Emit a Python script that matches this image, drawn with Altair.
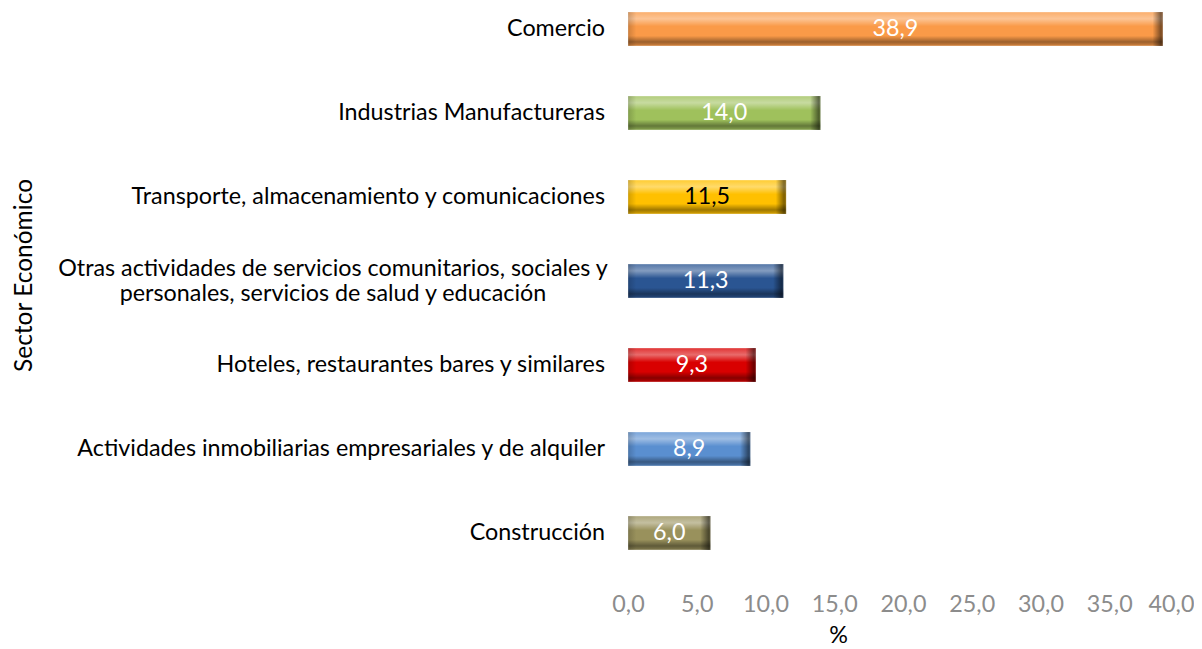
import altair as alt
import pandas as pd

sectors = [
    "Comercio",
    "Industrias Manufactureras",
    "Transporte, almacenamiento y comunicaciones",
    "Otras actividades de servicios comunitarios, sociales y\npersonales, servicios de salud y educación",
    "Hoteles, restaurantes bares y similares",
    "Actividades inmobiliarias empresariales y de alquiler",
    "Construcción",
]
values = [38.9, 14.0, 11.5, 11.3, 9.3, 8.9, 6.0]
bar_colors = ["#FA9A48", "#9FC15C", "#FFC000", "#2A5592", "#D90000", "#5A8FD0", "#99915C"]
text_colors = ["white", "white", "black", "white", "white", "white", "white"]
x_ticks = [0, 5, 10, 15, 20, 25, 30, 35, 40]

FONT = "Lato"
FS = 23.3

df = pd.DataFrame({
    "sector": sectors,
    "v": values,
    "col": bar_colors,
    "tcol": text_colors,
    "multi": ["\n" in s for s in sectors],
})

yenc = alt.Y(
    "sector:N",
    sort=sectors,
    scale=alt.Scale(paddingInner=50 / 84, paddingOuter=4 / 84),
    axis=alt.Axis(
        labels=False, ticks=False, domain=False, grid=False,
        title="Sector Económico", titleFont=FONT, titleFontSize=24.5,
        titleFontWeight="normal", titleColor="#000000",
        titleX=-604, titleY=267, titleAngle=270,
        titleAlign="center", titleBaseline="middle",
    ),
)
ysimple = alt.Y("sector:N", sort=sectors)

xscale = alt.Scale(domain=[0, 40], nice=False)

base = alt.Chart(df)

bars = base.mark_bar().encode(
    x=alt.X(
        "v:Q", scale=xscale,
        axis=alt.Axis(
            values=x_ticks, domain=False, ticks=False, grid=False,
            labelExpr="replace(format(datum.value, '.1f'), '.', ',')",
            labelFont=FONT, labelFontSize=FS, labelColor="#8C8C8C",
            labelPadding=50, labelBaseline="middle", labelFlush=False,
            labelOverlap=False,
            labelOffset={"condition": {"test": "datum.value >= 40", "value": -7}, "value": 0},
            title="%", titleFont=FONT, titleFontSize=FS, titleFontWeight="normal",
            titleColor="#000000", titleX=210, titleY=81, titleBaseline="middle",
            titleAlign="center",
        ),
    ),
    y=yenc,
    color=alt.Color("col:N", scale=None),
)

shade = base.mark_bar(
    stroke="rgba(255,255,255,0.35)", strokeWidth=1,
    color=alt.Gradient(
        gradient="linear",
        x1=0, x2=0, y1=0, y2=1,
        stops=[
            alt.GradientStop(color="rgba(255,255,255,0.20)", offset=0),
            alt.GradientStop(color="rgba(255,255,255,0.42)", offset=0.2),
            alt.GradientStop(color="rgba(255,255,255,0.0)", offset=0.42),
            alt.GradientStop(color="rgba(0,0,0,0.0)", offset=0.7),
            alt.GradientStop(color="rgba(0,0,0,0.38)", offset=0.88),
            alt.GradientStop(color="rgba(0,0,0,0.15)", offset=1),
        ],
    )
).encode(x=alt.X("v:Q", scale=xscale), y=ysimple)

right_edge = base.transform_calculate(e="datum.v - 0.75").mark_bar(
    color=alt.Gradient(
        gradient="linear",
        x1=0, x2=1, y1=0, y2=0,
        stops=[
            alt.GradientStop(color="rgba(0,0,0,0.0)", offset=0),
            alt.GradientStop(color="rgba(0,0,0,0.5)", offset=0.8),
            alt.GradientStop(color="rgba(0,0,0,0.4)", offset=1),
        ],
    )
).encode(x=alt.X("e:Q", scale=xscale), x2="v:Q", y=ysimple)

left_edge = base.transform_calculate(s="0", e="0.6").mark_bar(
    color=alt.Gradient(
        gradient="linear",
        x1=0, x2=1, y1=0, y2=0,
        stops=[
            alt.GradientStop(color="rgba(0,0,0,0.18)", offset=0),
            alt.GradientStop(color="rgba(0,0,0,0.0)", offset=1),
        ],
    )
).encode(x=alt.X("s:Q", scale=xscale), x2="e:Q", y=ysimple)

vals = base.transform_calculate(
    half="datum.v / 2",
    lbl="replace(format(datum.v, '.1f'), '.', ',')",
).mark_text(font=FONT, fontSize=FS, baseline="middle", align="center").encode(
    x=alt.X("half:Q", scale=xscale),
    y=ysimple,
    text="lbl:N",
    color=alt.Color("tcol:N", scale=None),
)

single = base.transform_filter("!datum.multi").mark_text(
    font=FONT, fontSize=FS, align="right", baseline="middle", color="#000000"
).encode(
    x=alt.value(-23),
    y=ysimple,
    text="sector:N",
)

multi = base.transform_filter("datum.multi").mark_text(
    font=FONT, fontSize=FS, align="center", baseline="middle", color="#000000",
    lineBreak="\n", lineHeight=25, dy=-12,
).encode(
    x=alt.value(-295),
    y=ysimple,
    text="sector:N",
)

chart = alt.layer(bars, shade, left_edge, right_edge, vals, single, multi).properties(
    width=550, height=546,
    autosize=alt.AutoSizeParams(type="none"),
    padding={"left": 620, "top": 0, "right": 16, "bottom": 97},
).configure_view(stroke=None)

chart.save("out.html", embed_options={"renderer": "svg", "actions": False})
